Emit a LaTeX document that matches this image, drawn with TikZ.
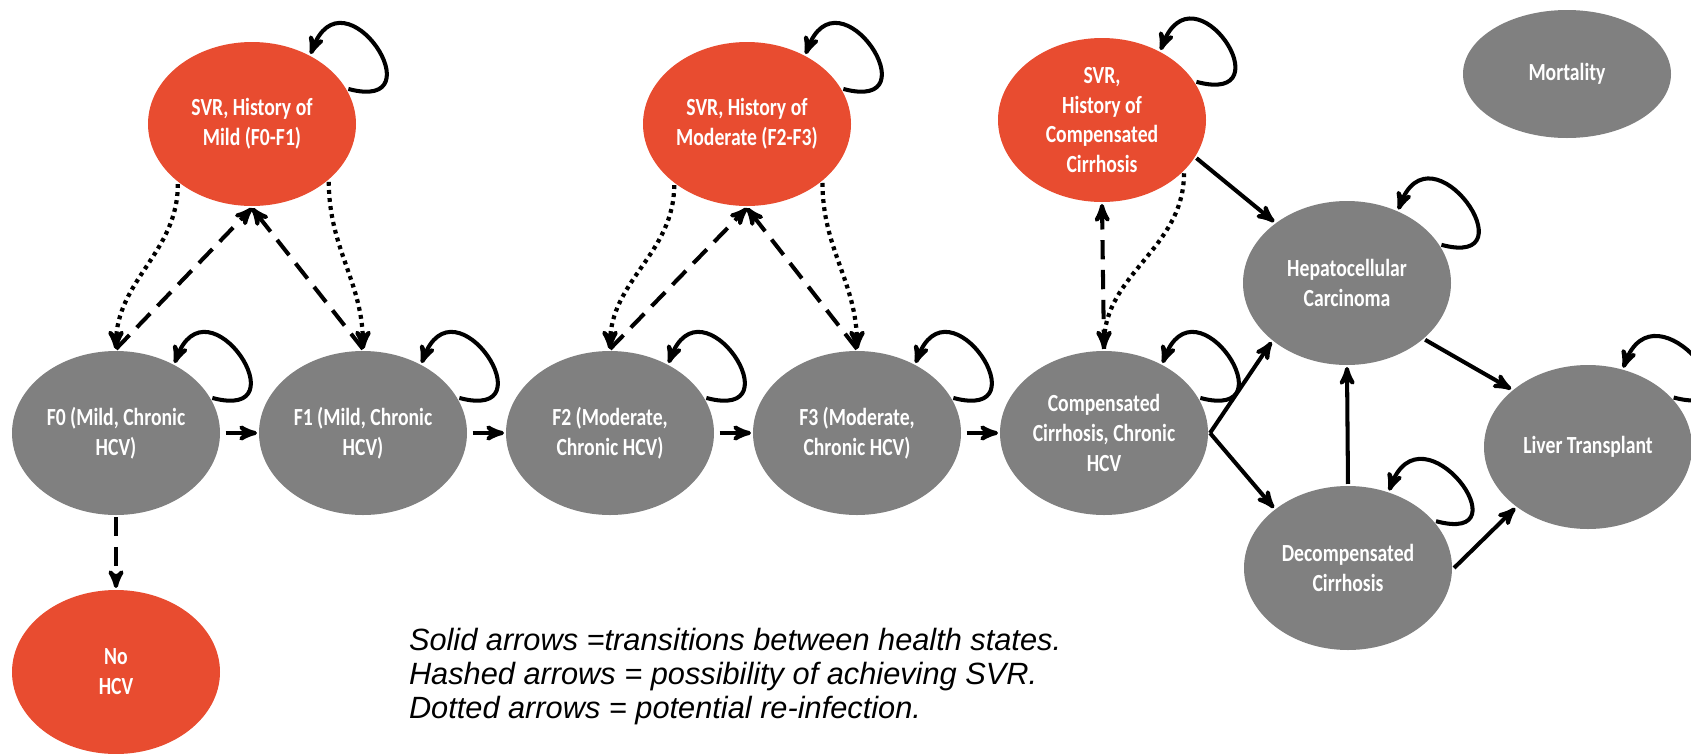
\documentclass[tikz,border=0pt]{standalone}
\usepackage{fontspec}
\setmainfont{Carlito}[FakeStretch=0.8]
\newfontfamily\legendfont{Liberation Sans}
\usetikzlibrary{arrows,shapes.geometric}

\definecolor{svrred}{RGB}{232,76,48}
\definecolor{stategray}{RGB}{128,128,128}

\begin{document}
\begin{tikzpicture}[->,>=stealth',line width=2.3pt,node distance=4.94cm,
 main node/.style={ellipse,fill=stategray,text=white,inner sep=0pt,
   minimum width=4.16cm,minimum height=3.28cm,align=center,
   font=\fontsize{14}{17}\selectfont\bfseries},
 svr node/.style={main node,fill=svrred},
 hashed/.style={dash pattern=on 11pt off 6pt},
 dots/.style={line width=2.4pt,dash pattern=on 2.2pt off 2.4pt},
 selfloop/.style={out=-15,in=70,distance=1.9cm}]
\useasboundingbox (0,0) rectangle (33.82,-15.06);

% chronic HCV row
\node[main node](F0) at (2.32,-8.66) {F0 (Mild, Chronic\\HCV)};
\node[main node](F1)[right of = F0]{F1 (Mild, Chronic\\HCV)};
\node[main node](F2)[right of = F1]{F2 (Moderate,\\Chronic HCV)};
\node[main node](F3)[right of = F2]{F3 (Moderate,\\Chronic HCV)};
\node[main node](CC)[right of = F3]{Compensated\\Cirrhosis, Chronic\\HCV};
\node[svr node](NoHCV)[below of = F0, node distance=4.78cm]{No\\HCV};

% SVR states
\node[svr node](SM) at (5.04,-2.48) {SVR, History of\\Mild (F0-F1)};
\node[svr node](SMo) at (14.94,-2.48) {SVR, History of\\Moderate (F2-F3)};
\node[svr node](SC) at (22.04,-2.40) {SVR,\\History of\\Compensated\\Cirrhosis};

% end stage states
\node[main node](HCC) at (26.94,-5.66) {Hepatocellular\\Carcinoma};
\node[main node](DC) at (26.96,-11.36) {Decompensated\\Cirrhosis};
\node[main node](LT) at (31.76,-8.94) {Liver Transplant};
\node[main node,minimum height=2.56cm](Mort) at (31.34,-1.48) {Mortality};

\foreach \s/\a/\b in {SM/20/50, SMo/20/50, SC/22/50, F0/20/50, F1/20/50,
    F2/20/50, F3/20/50, CC/20/50, HCC/22/55, DC/28/62, LT/30/66}{
  \draw (\s.\a) to[selfloop] (\s.\b);}

\foreach \s/\t in {F0/F1, F1/F2, F2/F3, F3/CC}{
  \draw[shorten <=2pt] (\s.east) -- (\t.west);}

\path (SC.338) edge (HCC.140)
  (CC.east) edge (HCC.218)
            edge (DC.141)
  (DC.north) edge (HCC.south)
  (HCC.324) edge (LT.143)
  (DC.east) edge (LT.220);

% SVR
\path[hashed] (F0.north) edge (SM.south)
  (F1.north) edge (SM.south)
  (F2.north) edge (SMo.south)
  (F3.north) edge (SMo.south)
  (CC.north) edge (SC.south)
  (F0.south) edge (NoHCV.north);

% re-infection
\path[dots] (SM.219) edge[out=-90,in=90] (F0.north)
  (SM.323) edge[out=-90,in=90] (F1.north)
  (SMo.220) edge[out=-90,in=90] (F2.north)
  (SMo.322) edge[out=-90,in=90] (F3.north)
  (SC.327) edge[out=-90,in=90] (CC.north);

\node[anchor=north west,inner sep=0pt,align=left,
  font=\legendfont\itshape\fontsize{17.5}{19.4}\selectfont](legend) at (8.14,-12.53)
  {Solid arrows =transitions between health states.\\
   Hashed arrows = possibility of achieving SVR.\\
   Dotted arrows = potential re-infection.};
\end{tikzpicture}
\end{document}
